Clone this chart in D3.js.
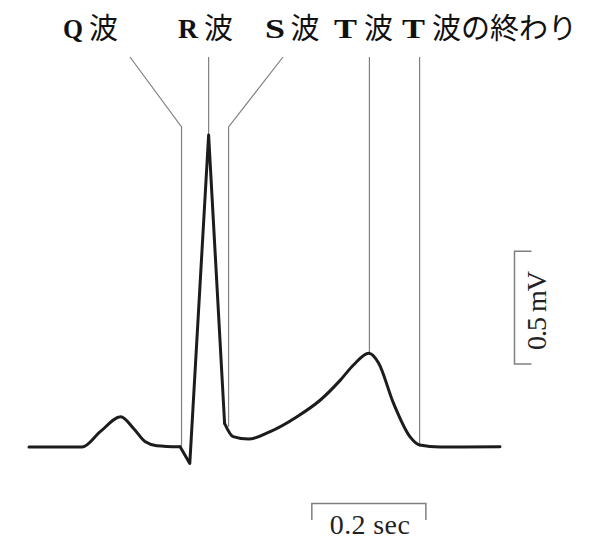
<!DOCTYPE html>
<html>
<head>
<meta charset="utf-8">
<script src="https://cdn.jsdelivr.net/npm/d3@7"></script>
<style>
  html, body { margin: 0; padding: 0; background: #fff; }
  svg { display: block; }
</style>
</head>
<body>
<svg id="chart" width="596" height="544"></svg>
<script>
// ---- data (time in sec, voltage in mV) ----
const pTime  = [0, 0.093, 0.125, 0.161, 0.183, 0.204, 0.224, 0.265];
const pVolt  = [0, 0, 0.068, 0.134, 0.083, 0.023, 0.006, 0.001];
const qrsTime = [0.265, 0.282, 0.315, 0.343];
const qrsVolt = [0.001, -0.073, 1.381, 0.105];
const tTime  = [0.343, 0.358, 0.385, 0.423, 0.470, 0.511, 0.546, 0.569, 0.596, 0.613, 0.639, 0.668, 0.685, 0.721, 0.826];
const tVolt  = [0.105, 0.046, 0.035, 0.068, 0.134, 0.208, 0.296, 0.363, 0.415, 0.372, 0.195, 0.046, 0.009, 0.0, 0.001];
const waveLetters = ["Q", "R", "S", "T", "T"];
const waveSuffix  = ["波", "波", "波", "波", "波の終わり"];
const markerTimes = [0.2675, 0.315, 0.350, 0.597, 0.685];
const timeBar = [0.496, 0.696];
const timeBarLabel = "0.2 sec";
const voltBar = [0.367, 0.867];
const voltBarLabel = "0.5 mV";

// ---- layout ----
const svg = d3.select("#chart");
const x = d3.scaleLinear().domain([0, 0.826]).range([29, 500]);
const y = d3.scaleLinear().domain([0, 1.381]).range([447, 135]);

const letterX = [63, 178, 265, 334, 402];
const suffixX = [89, 204, 290.5, 364, 432];
const labelBaseline = 37.5;
const leaderTop = 57;
const bendY = 127;
const slantTopX = [130, null, 283, null, null];

const guideColor = "#808080";
const g = svg.append("g");

// leader lines
markerTimes.forEach((t, i) => {
  const mx = x(t);
  let bottom;
  if (i === 0) bottom = y(0.005);
  else if (i === 1) bottom = y(1.381);
  else if (i === 2) bottom = y(0.09);
  else if (i === 3) bottom = y(0.415);
  else bottom = y(0.002);
  let pts;
  if (slantTopX[i] != null) {
    pts = [[slantTopX[i], leaderTop], [mx, bendY], [mx, bottom]];
  } else {
    pts = [[mx, leaderTop], [mx, bottom]];
  }
  g.append("path")
    .attr("d", d3.line()(pts))
    .attr("fill", "none")
    .attr("stroke", guideColor)
    .attr("stroke-width", 1.2);
});

// ECG trace
const traceLine = (curve) => d3.line().x(d => x(d[0])).y(d => y(d[1])).curve(curve);
const segs = [
  [d3.zip(pTime, pVolt), d3.curveMonotoneX],
  [d3.zip(qrsTime, qrsVolt), d3.curveLinear],
  [d3.zip(tTime, tVolt), d3.curveMonotoneX]
];
segs.forEach(([data, curve]) => {
  g.append("path")
    .attr("d", traceLine(curve)(data))
    .attr("fill", "none")
    .attr("stroke", "#1c1c1c")
    .attr("stroke-width", 3)
    .attr("stroke-linejoin", "round")
    .attr("stroke-linecap", "round");
});

// labels
waveLetters.forEach((L, i) => {
  const t = g.append("text").attr("y", labelBaseline).attr("fill", "#111");
  t.append("tspan")
    .attr("x", letterX[i])
    .attr("font-family", "'Liberation Serif', 'DejaVu Serif', serif")
    .attr("font-weight", "bold")
    .attr("font-size", 28)
    .attr("textLength", i === 3 || i === 4 ? 23 : 20)
    .attr("lengthAdjust", "spacingAndGlyphs")
    .text(L);
  t.append("tspan")
    .attr("x", suffixX[i])
    .attr("y", labelBaseline + 1.5)
    .attr("font-family", "'Noto Sans CJK JP', sans-serif")
    .attr("font-size", 29)
    .attr("font-weight", 400)
    .text(waveSuffix[i]);
});

// time scale bar
const tb0 = x(timeBar[0]), tb1 = x(timeBar[1]);
g.append("path")
  .attr("d", d3.line()([[tb0, 520], [tb0, 503.5], [tb1, 503.5], [tb1, 520]]))
  .attr("fill", "none").attr("stroke", guideColor).attr("stroke-width", 1.5);
g.append("text")
  .attr("x", (tb0 + tb1) / 2 + 1).attr("y", 534)
  .attr("text-anchor", "middle")
  .attr("font-family", "'Liberation Serif', 'DejaVu Serif', serif")
  .attr("font-size", 28)
  .attr("fill", "#222")
  .attr("textLength", 80)
  .attr("lengthAdjust", "spacing")
  .text(timeBarLabel);

// voltage scale bar
const vb0 = y(voltBar[0]), vb1 = y(voltBar[1]);
g.append("path")
  .attr("d", d3.line()([[531.5, vb0], [514.5, vb0], [514.5, vb1], [531.5, vb1]]))
  .attr("fill", "none").attr("stroke", guideColor).attr("stroke-width", 1.5);
g.append("text")
  .attr("transform", `translate(545.5,${(vb0 + vb1) / 2 + 3}) rotate(-90)`)
  .attr("text-anchor", "middle")
  .attr("font-family", "'Liberation Serif', 'DejaVu Serif', serif")
  .attr("font-size", 28)
  .attr("fill", "#222")
  .attr("textLength", 79)
  .attr("lengthAdjust", "spacing")
  .text(voltBarLabel);
</script>
</body>
</html>
